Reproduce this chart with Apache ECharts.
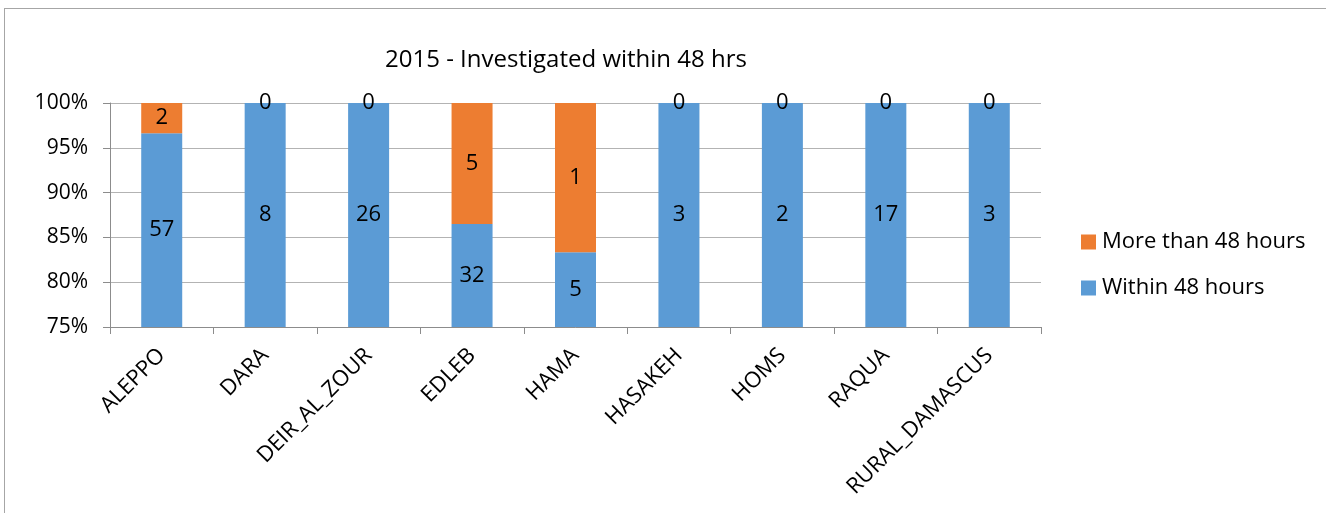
<!DOCTYPE html>
<html>
<head>
<meta charset="utf-8">
<script src="https://cdn.jsdelivr.net/npm/echarts@6/dist/echarts.min.js"></script>
<style>
  html, body { margin: 0; padding: 0; background: #fff; }
  #frame { position: absolute; left: 4px; top: 8px; width: 1400px; height: 600px;
           border-left: 1px solid #a6a6a6; border-top: 1px solid #a6a6a6; }
  #chart { position: absolute; left: 0; top: 0; width: 1326px; height: 513px; }
</style>
</head>
<body>
<div id="frame"></div>
<div id="chart"></div>
<script>
// governorates and counts
const regions = ['ALEPPO', 'DARA', 'DEIR_AL_ZOUR', 'EDLEB', 'HAMA', 'HASAKEH', 'HOMS', 'RAQUA', 'RURAL_DAMASCUS']
const within48 = [57, 8, 26, 32, 5, 3, 2, 17, 3]
const over48 = [2, 0, 0, 5, 1, 0, 0, 0, 0]

const font = 'Open Sans'

// 100% stacked: value is the share, label keeps the count
const share = (arr) => arr.map((v, i) => ({
    value: v / (within48[i] + over48[i]),
    count: v
}))

const chart = echarts.init(document.getElementById('chart'))
chart.setOption({
    animation: false,
    textStyle: { fontFamily: font },
    title: {
        text: '2015 - Investigated within 48 hrs',
        left: 561,
        textAlign: 'center',
        top: 43,
        textStyle: { fontFamily: font, fontSize: 24, fontWeight: 'normal', color: '#000' }
    },
    legend: {
        orient: 'vertical',
        left: 1076,
        top: 226,
        itemWidth: 15,
        itemHeight: 15,
        itemGap: 24,
        icon: 'rect',
        textStyle: { fontFamily: font, fontSize: 22, color: '#000', padding: [0, 0, 0, 1] },
        data: ['More than 48 hours', 'Within 48 hours']
    },
    grid: { left: 110, top: 103, width: 931, height: 224, containLabel: false },
    xAxis: {
        type: 'category',
        data: regions,
        axisLine: { lineStyle: { color: '#8c8c8c', width: 1 } },
        axisTick: { show: true, length: 7, lineStyle: { color: '#8c8c8c' } },
        axisLabel: { rotate: 45, fontSize: 22, color: '#000', margin: 25, fontFamily: font }
    },
    yAxis: {
        type: 'value',
        min: 0.75,
        max: 1,
        interval: 0.05,
        axisLine: { show: true, lineStyle: { color: '#8c8c8c' } },
        axisTick: { show: true, length: 7, lineStyle: { color: '#8c8c8c' } },
        splitLine: { lineStyle: { color: '#b3b3b3' } },
        axisLabel: {
            fontSize: 21, color: '#000', margin: 22, fontFamily: font,
            formatter: v => Math.round(v * 100) + '%'
        }
    },
    series: [
        {
            name: 'Within 48 hours',
            type: 'bar',
            stack: 'total',
            barWidth: 41,
            itemStyle: { color: '#5b9bd5' },
            label: {
                show: true, position: 'inside', fontSize: 22, color: '#000', fontFamily: font,
                formatter: p => p.data.count
            },
            data: share(within48)
        },
        {
            name: 'More than 48 hours',
            type: 'bar',
            stack: 'total',
            barWidth: 41,
            itemStyle: { color: '#ed7d31' },
            label: {
                show: true, position: 'inside', fontSize: 22, color: '#000', fontFamily: font,
                formatter: p => p.data.count
            },
            data: share(over48)
        }
    ]
})
</script>
</body>
</html>
